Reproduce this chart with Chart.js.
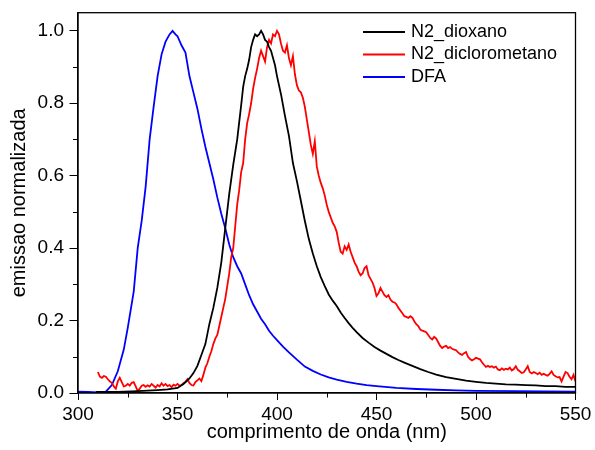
<!DOCTYPE html>
<html>
<head>
<meta charset="utf-8">
<script src="https://cdn.jsdelivr.net/npm/chart.js@4.4.0/dist/chart.umd.min.js"></script>
<style>
  html, body { margin: 0; padding: 0; background: #fff; }
</style>
</head>
<body>
<canvas id="chart" width="595" height="450"></canvas>
<script>
// Emission spectra (normalized)
const seriesNames = ['N2_dioxano', 'N2_diclorometano', 'DFA'];
const seriesColors = ['#000000', '#ff0000', '#0000ff'];

const dioxanoNm = [309, 320, 330, 340, 345, 350, 353, 356, 358, 360, 362, 364, 366, 368, 370, 372, 374, 376, 378, 380,
  382, 383, 384, 385, 386, 387, 388, 389, 390, 391, 392, 393, 394, 395, 396, 397, 398, 399, 400, 402,
  404, 406, 408, 410, 412, 414, 416, 418, 420, 422, 424, 426, 428, 430, 432, 434, 436, 438, 440, 443,
  446, 449, 452, 455, 458, 461, 464, 468, 472, 476, 480, 485, 490, 495, 500, 505, 510, 515, 520, 525,
  530, 535, 540, 545, 550];
const dioxanoVal = [0.003, 0.003, 0.005, 0.008, 0.010, 0.014, 0.025, 0.040, 0.055, 0.075, 0.105, 0.135, 0.19, 0.235, 0.29, 0.36, 0.455, 0.55, 0.63, 0.70,
  0.795, 0.845, 0.875, 0.895, 0.92, 0.955, 0.975, 0.99, 0.985, 0.99, 1.0, 0.99, 0.975, 0.97, 0.955, 0.945, 0.925, 0.905, 0.875, 0.825,
  0.765, 0.71, 0.635, 0.585, 0.53, 0.475, 0.425, 0.385, 0.35, 0.32, 0.295, 0.272, 0.255, 0.24, 0.222, 0.207, 0.193, 0.18, 0.168, 0.152,
  0.139, 0.127, 0.117, 0.108, 0.099, 0.091, 0.084, 0.075, 0.066, 0.058, 0.051, 0.044, 0.039, 0.034, 0.031, 0.028, 0.026, 0.024, 0.023, 0.022,
  0.021, 0.019, 0.019, 0.017, 0.017];

// dichloromethane is sampled every 1 nm from 310 to 550
const dcmStart = 310;
const dcmVal = [
  0.058, 0.045, 0.042, 0.047, 0.045, 0.038, 0.032, 0.028, 0.018, 0.012,
  0.032, 0.042, 0.030, 0.018, 0.020, 0.025, 0.020, 0.028, 0.030, 0.018,
  0.005, 0.012, 0.020, 0.022, 0.017, 0.021, 0.018, 0.025, 0.020, 0.015,
  0.022, 0.018, 0.027, 0.020, 0.025, 0.019, 0.022, 0.016, 0.023, 0.020,
  0.025, 0.020, 0.022, 0.027, 0.030, 0.038, 0.028, 0.022, 0.021, 0.030,
  0.035, 0.040, 0.033, 0.050, 0.070, 0.082, 0.100, 0.115, 0.135, 0.150,
  0.160, 0.185, 0.210, 0.235, 0.260, 0.295, 0.330, 0.375, 0.400, 0.460,
  0.520, 0.560, 0.610, 0.635, 0.700, 0.745, 0.770, 0.800, 0.840, 0.870,
  0.895, 0.925, 0.945, 0.930, 0.915, 0.955, 0.975, 0.965, 0.990, 0.985,
  1.000, 0.990, 0.965, 0.945, 0.940, 0.960, 0.925, 0.905, 0.930, 0.880,
  0.850, 0.835, 0.830, 0.815, 0.790, 0.755, 0.720, 0.685, 0.660, 0.695,
  0.625, 0.600, 0.580, 0.565, 0.545, 0.520, 0.500, 0.485, 0.470, 0.460,
  0.445, 0.415, 0.390, 0.385, 0.405, 0.395, 0.410, 0.390, 0.375, 0.360,
  0.350, 0.335, 0.325, 0.330, 0.345, 0.350, 0.325, 0.315, 0.305, 0.290,
  0.268, 0.275, 0.290, 0.280, 0.270, 0.265, 0.270, 0.258, 0.252, 0.250,
  0.245, 0.235, 0.228, 0.220, 0.212, 0.210, 0.207, 0.212, 0.208, 0.198,
  0.190, 0.185, 0.175, 0.172, 0.170, 0.168, 0.160, 0.152, 0.148, 0.155,
  0.150, 0.140, 0.130, 0.124, 0.128, 0.130, 0.124, 0.127, 0.122, 0.120,
  0.118, 0.112, 0.108, 0.105, 0.110, 0.113, 0.100, 0.094, 0.090, 0.093,
  0.097, 0.095, 0.093, 0.085, 0.078, 0.072, 0.075, 0.072, 0.074, 0.070,
  0.073, 0.065, 0.063, 0.068, 0.064, 0.067, 0.065, 0.070, 0.062, 0.066,
  0.074, 0.064, 0.060, 0.055, 0.057, 0.065, 0.074, 0.058, 0.054, 0.058,
  0.055, 0.052, 0.056, 0.050, 0.053, 0.050, 0.048, 0.053, 0.060, 0.050,
  0.046, 0.043, 0.044, 0.032, 0.045, 0.058, 0.055, 0.045, 0.038, 0.050,
  0.032];

const dfaNm = [300, 305, 310, 314, 317, 320, 323, 325, 328, 330, 332, 334, 336, 338, 340, 342, 344, 346, 347.5, 349,
  350, 352, 354, 356, 358, 360, 362, 364, 366, 368, 370, 372, 374, 376, 378, 380, 382, 384, 386, 388,
  390, 392, 394, 396, 398, 400, 403, 406, 410, 414, 418, 422, 426, 430, 435, 440, 445, 450, 460, 470,
  480, 490, 500, 520, 550];
const dfaVal = [0.004, 0.003, 0.002, 0.004, 0.022, 0.06, 0.12, 0.18, 0.28, 0.40, 0.475, 0.57, 0.70, 0.79, 0.875, 0.935, 0.97, 0.99, 1.0, 0.99,
  0.985, 0.96, 0.94, 0.875, 0.83, 0.785, 0.73, 0.68, 0.635, 0.59, 0.54, 0.495, 0.455, 0.41, 0.375, 0.35, 0.33, 0.30, 0.27, 0.245,
  0.225, 0.205, 0.19, 0.172, 0.158, 0.146, 0.128, 0.112, 0.092, 0.073, 0.061, 0.051, 0.043, 0.037, 0.031, 0.026, 0.022, 0.019, 0.014, 0.011,
  0.009, 0.007, 0.006, 0.005, 0.004];

// Helper functions
const toPoints = (xs, ys) => xs.map((x, i) => ({ x: x, y: ys[i] }));
const dcmNm = dcmVal.map((v, i) => dcmStart + i);

const FONT = 'Liberation Sans, Arial, Helvetica, sans-serif';

// frame, minor ticks and legend box
const decorations = {
  id: 'decorations',
  afterDraw(chart) {
    const { ctx, chartArea } = chart;
    ctx.save();
    ctx.strokeStyle = '#000';
    ctx.lineWidth = 1.3;
    ctx.strokeRect(chartArea.left, chartArea.top, chartArea.right - chartArea.left, chartArea.bottom - chartArea.top);

    // minor ticks (shorter than the labelled ones)
    const xs = chart.scales.x;
    const ys = chart.scales.y;
    ctx.lineWidth = 1;
    ctx.beginPath();
    for (const t of xs.ticks) {
      if (t.value % 50 !== 0) {
        const px = Math.round(xs.getPixelForValue(t.value)) + 0.5;
        ctx.moveTo(px, chartArea.bottom);
        ctx.lineTo(px, chartArea.bottom + 4.5);
      }
    }
    for (const t of ys.ticks) {
      if (Math.round(t.value * 10) % 2 !== 0) {
        const py = Math.round(ys.getPixelForValue(t.value)) + 0.5;
        ctx.moveTo(chartArea.left, py);
        ctx.lineTo(chartArea.left - 5, py);
      }
    }
    ctx.stroke();

    // legend
    ctx.font = '18px ' + FONT;
    ctx.textBaseline = 'middle';
    ctx.textAlign = 'left';
    chart.data.datasets.forEach((ds, i) => {
      const y = 32 + i * 22.5;
      ctx.strokeStyle = ds.borderColor;
      ctx.lineWidth = 2;
      ctx.beginPath();
      ctx.moveTo(363, y);
      ctx.lineTo(405, y);
      ctx.stroke();
      ctx.fillStyle = '#000';
      ctx.fillText(ds.label, 411, y);
    });
    ctx.restore();
  }
};

const buildChart = () => {
  const ctx = document.getElementById('chart').getContext('2d');

  const datasets = [
    toPoints(dioxanoNm, dioxanoVal),
    toPoints(dcmNm, dcmVal),
    toPoints(dfaNm, dfaVal),
  ].map((pts, i) => ({
    label: seriesNames[i],
    data: pts,
    borderColor: seriesColors[i],
    borderWidth: 1.8,
    pointRadius: 0,
    tension: 0,
    fill: false,
  }));

  return new Chart(ctx, {
    type: 'line',
    data: { datasets: datasets },
    plugins: [decorations],
    options: {
      responsive: false,
      animation: false,
      layout: { padding: { top: 12.7, right: 19.5, left: 0, bottom: 0 } },
      plugins: {
        legend: { display: false },
        tooltip: { enabled: false },
      },
      scales: {
        x: {
          type: 'linear',
          min: 300,
          max: 550,
          ticks: {
            stepSize: 25,
            autoSkip: false,
            maxRotation: 0,
            padding: 3,
            color: '#000',
            font: { family: FONT, size: 19 },
            callback: (v) => (v % 50 === 0 ? String(v) : ''),
          },
          grid: {
            drawOnChartArea: false,
            tickLength: 7,
            tickWidth: 1,
            tickColor: (c) => (c.tick && c.tick.value % 50 === 0 ? '#000' : 'rgba(0,0,0,0)'),
          },
          border: { color: '#000', width: 1.3 },
          title: {
            display: true,
            text: 'comprimento de onda (nm)',
            color: '#000',
            font: { family: FONT, size: 20 },
            padding: { top: 0, bottom: 6 },
          },
          afterFit: (scale) => {
            scale.height = 57;
            scale.paddingLeft = 0;
            scale.paddingRight = 0;
          },
        },
        y: {
          type: 'linear',
          min: 0,
          max: 1.05,
          ticks: {
            stepSize: 0.1,
            includeBounds: false,
            autoSkip: false,
            padding: 5.5,
            color: '#000',
            font: { family: FONT, size: 19 },
            callback: (v) => (Math.round(v * 10) % 2 === 0 ? v.toFixed(1) : ''),
          },
          grid: {
            drawOnChartArea: false,
            tickLength: 8.5,
            tickWidth: 1,
            tickColor: (c) => (c.tick && Math.round(c.tick.value * 10) % 2 === 0 ? '#000' : 'rgba(0,0,0,0)'),
          },
          border: { color: '#000', width: 1.3 },
          title: {
            display: true,
            text: 'emissao normalizada',
            color: '#000',
            font: { family: FONT, size: 20 },
            padding: { top: 7, bottom: 0 },
          },
          afterFit: (scale) => {
            scale.width = 78;
            scale.paddingTop = 0;
            scale.paddingBottom = 0;
          },
        },
      },
    },
  });
};

buildChart();
</script>
</body>
</html>
